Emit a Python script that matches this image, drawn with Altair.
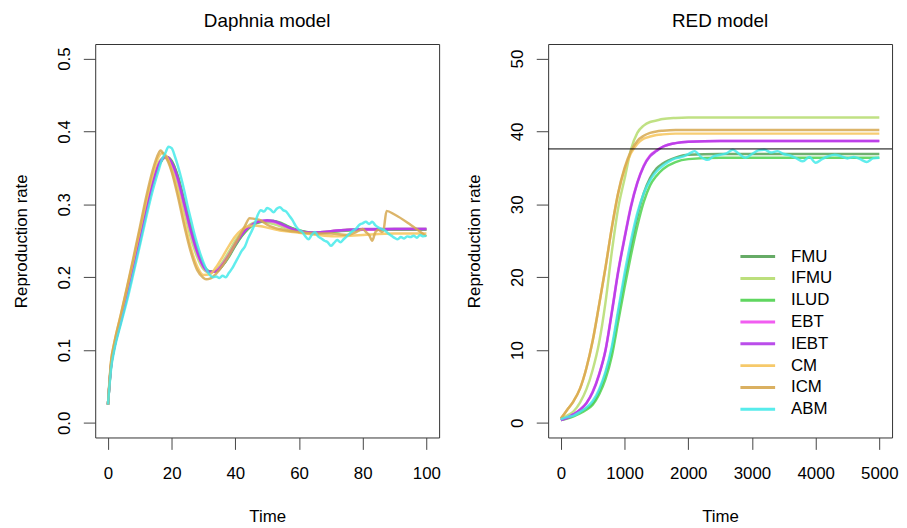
import altair as alt
import pandas as pd

models = ["FMU", "IFMU", "ILUD", "EBT", "IEBT", "CM", "ICM", "ABM"]
colors = ["#56a356", "#b5dc6e", "#4fd24f", "#f04cf0", "#b33ae8", "#f6c45a", "#d6a850", "#45eaea"]

# ---------------- Daphnia model (left) ----------------
left_t = [0, 1, 2, 4, 6, 8, 10, 12, 14, 16, 17, 18, 19, 20, 22, 24, 26, 28, 30, 32, 34, 36, 38, 40,
          42, 44, 46, 48, 50, 52, 54, 56, 58, 60, 64, 68, 72, 76, 80, 90, 100]
left_FMU = [0.025, 0.079, 0.104, 0.139, 0.174, 0.211, 0.249, 0.289, 0.326, 0.354, 0.361, 0.365, 0.364, 0.359,
            0.337, 0.302, 0.267, 0.237, 0.216, 0.208, 0.208, 0.216, 0.229, 0.244, 0.257, 0.267, 0.273, 0.276,
            0.277, 0.277, 0.274, 0.270, 0.267, 0.264, 0.261, 0.262, 0.263, 0.265, 0.265, 0.266, 0.266]
left_IFMU = [0.025, 0.082, 0.107, 0.143, 0.179, 0.217, 0.256, 0.296, 0.332, 0.358, 0.363, 0.364, 0.360, 0.352,
             0.326, 0.290, 0.255, 0.228, 0.211, 0.206, 0.210, 0.221, 0.235, 0.250, 0.262, 0.270, 0.275, 0.276,
             0.275, 0.273, 0.270, 0.267, 0.264, 0.262, 0.261, 0.262, 0.264, 0.265, 0.265, 0.265, 0.265]
left_ILUD = [0.025, 0.078, 0.103, 0.138, 0.173, 0.210, 0.248, 0.288, 0.325, 0.353, 0.361, 0.365, 0.364, 0.360,
             0.338, 0.304, 0.269, 0.238, 0.217, 0.208, 0.208, 0.216, 0.228, 0.243, 0.256, 0.266, 0.273, 0.276,
             0.277, 0.277, 0.275, 0.271, 0.267, 0.264, 0.261, 0.261, 0.263, 0.264, 0.265, 0.265, 0.265]
left_EBT = [0.025, 0.080, 0.105, 0.140, 0.176, 0.213, 0.251, 0.291, 0.328, 0.355, 0.362, 0.365, 0.363, 0.356,
            0.333, 0.298, 0.263, 0.234, 0.214, 0.207, 0.209, 0.218, 0.231, 0.246, 0.259, 0.268, 0.274, 0.277,
            0.277, 0.276, 0.273, 0.269, 0.266, 0.263, 0.261, 0.262, 0.264, 0.265, 0.265, 0.266, 0.266]
left_IEBT = [0.025, 0.080, 0.105, 0.140, 0.175, 0.212, 0.250, 0.290, 0.327, 0.355, 0.362, 0.366, 0.364, 0.358,
             0.335, 0.300, 0.265, 0.235, 0.215, 0.207, 0.208, 0.217, 0.230, 0.245, 0.258, 0.268, 0.274, 0.277,
             0.278, 0.277, 0.274, 0.270, 0.266, 0.263, 0.261, 0.262, 0.264, 0.265, 0.266, 0.266, 0.266]
left_CM = [0.025, 0.085, 0.110, 0.147, 0.185, 0.224, 0.264, 0.304, 0.340, 0.366, 0.370, 0.368, 0.360, 0.347,
           0.316, 0.277, 0.241, 0.215, 0.203, 0.204, 0.214, 0.228, 0.243, 0.256, 0.265, 0.270, 0.271, 0.270,
           0.268, 0.266, 0.264, 0.263, 0.262, 0.261, 0.259, 0.257, 0.256, 0.257, 0.258, 0.260, 0.260]

icm_t = [0, 1, 2, 4, 6, 8, 10, 12, 14, 16, 16.5, 17, 18, 20, 22, 24, 26, 28, 30, 31, 32, 34, 36, 38, 40, 42,
         43, 44.5, 46, 48, 50, 55, 60, 65, 70, 75, 78, 80, 81, 82, 83, 84, 85, 86, 86.5, 87.5, 90, 95, 100]
left_ICM = [0.025, 0.085, 0.110, 0.148, 0.187, 0.227, 0.268, 0.310, 0.346, 0.371, 0.374, 0.372, 0.366, 0.345,
            0.310, 0.270, 0.235, 0.210, 0.199, 0.197, 0.198, 0.205, 0.216, 0.230, 0.246, 0.262, 0.270, 0.281,
            0.280, 0.278, 0.272, 0.265, 0.262, 0.260, 0.260, 0.258, 0.262, 0.266, 0.262, 0.258, 0.250, 0.262,
            0.265, 0.262, 0.264, 0.291, 0.286, 0.272, 0.256]

abm_t = [0, 1, 2, 4, 6, 8, 10, 12, 14, 16, 17, 18, 19, 20, 21, 22, 23, 24, 25, 26, 27, 28, 29, 30, 31, 32,
         33, 34, 35, 36, 37, 38, 39, 40, 41, 42, 43, 44, 45, 46, 47, 48, 49, 50, 51, 52, 53, 54, 55, 56, 57,
         58, 59, 60, 61, 62, 63, 64, 65, 66, 67, 68, 69, 70, 71, 72, 73, 74, 75, 76, 77, 78, 79, 80, 81, 82,
         83, 84, 85, 86, 87, 88, 89, 90, 91, 92, 93, 94, 95, 96, 97, 98, 99, 100]
left_ABM = [0.025, 0.075, 0.100, 0.135, 0.168, 0.205, 0.243, 0.282, 0.318, 0.348, 0.362, 0.370, 0.379, 0.377,
            0.366, 0.352, 0.336, 0.318, 0.298, 0.280, 0.262, 0.246, 0.232, 0.220, 0.210, 0.203, 0.200, 0.201,
            0.199, 0.202, 0.200, 0.206, 0.212, 0.220, 0.228, 0.236, 0.242, 0.253, 0.262, 0.272, 0.285, 0.292,
            0.290, 0.295, 0.293, 0.289, 0.294, 0.296, 0.292, 0.290, 0.284, 0.278, 0.270, 0.265, 0.262, 0.256,
            0.252, 0.258, 0.262, 0.256, 0.253, 0.250, 0.248, 0.243, 0.247, 0.251, 0.248, 0.252, 0.256, 0.260,
            0.264, 0.267, 0.272, 0.274, 0.276, 0.273, 0.276, 0.271, 0.268, 0.266, 0.264, 0.260, 0.257, 0.254,
            0.252, 0.255, 0.253, 0.256, 0.255, 0.257, 0.254, 0.258, 0.256, 0.257]

# ---------------- RED model (right) ----------------
right_t = [0, 100, 200, 300, 400, 500, 600, 700, 800, 900, 1000, 1100, 1200, 1300, 1400, 1500, 1600,
           1800, 2000, 2500, 3000, 4000, 5000]
right_FMU = [0.4, 0.7, 1.0, 1.5, 2.0, 2.7, 4.3, 6.7, 10.0, 15.0, 19.8, 24.2, 28.3, 31.5, 33.6, 34.9, 35.6,
             36.4, 36.8, 36.9, 36.9, 36.9, 36.9]
right_IFMU = [0.5, 1.0, 1.6, 2.8, 4.6, 7.3, 11.0, 16.5, 23.5, 29.5, 33.5, 37.5, 39.8, 40.8, 41.3, 41.5, 41.7,
              41.85, 41.9, 41.9, 41.9, 41.9, 41.9]
right_ILUD = [0.4, 0.6, 0.9, 1.3, 1.8, 2.5, 3.9, 6.0, 9.2, 13.9, 18.6, 23.0, 27.0, 30.3, 32.6, 33.9, 34.8,
              35.8, 36.2, 36.4, 36.4, 36.4, 36.4]
right_EBT = [0.4, 0.7, 1.2, 1.8, 2.7, 4.3, 6.7, 10.0, 15.3, 20.9, 25.5, 29.8, 33.0, 35.3, 36.7, 37.4, 37.9,
             38.4, 38.6, 38.7, 38.7, 38.7, 38.7]
right_IEBT = [0.4, 0.7, 1.2, 1.8, 2.7, 4.2, 6.6, 9.9, 15.1, 20.7, 25.3, 29.6, 32.9, 35.2, 36.6, 37.3, 37.9,
              38.4, 38.6, 38.7, 38.7, 38.7, 38.7]
right_CM = [0.6, 1.8, 3.0, 4.7, 7.5, 11.3, 16.2, 21.3, 26.8, 31.5, 34.8, 37.0, 38.3, 39.0, 39.3, 39.5, 39.6,
            39.7, 39.7, 39.7, 39.7, 39.7, 39.7]
right_ICM = [0.6, 1.8, 3.0, 4.7, 7.5, 11.3, 16.2, 21.3, 26.8, 31.6, 35.0, 37.3, 38.7, 39.4, 39.8, 40.0, 40.1,
             40.2, 40.2, 40.2, 40.2, 40.2, 40.2]
abm_right_t = [0, 100, 200, 300, 400, 500, 600, 700, 800, 900, 1000, 1100, 1200, 1300, 1400, 1500, 1600,
               1700, 1800, 1900, 2000, 2100, 2200, 2300, 2400, 2500, 2600, 2700, 2800, 2900, 3000, 3100,
               3200, 3300, 3400, 3500, 3600, 3700, 3800, 3900, 4000, 4100, 4200, 4300, 4400, 4500, 4600,
               4700, 4800, 4900, 5000]
right_ABM = [0.5, 0.8, 1.0, 1.5, 2.1, 3.0, 4.6, 7.0, 10.5, 15.5, 20.5, 25.0, 28.8, 31.5, 33.3, 34.5, 35.3,
             35.9, 36.3, 36.5, 36.9, 37.3, 36.5, 36.1, 36.6, 36.8, 37.0, 37.5, 36.9, 36.4, 36.9, 37.4, 37.5,
             37.1, 37.3, 36.9, 36.7, 36.3, 35.9, 36.5, 35.7, 36.2, 36.6, 36.8, 36.6, 36.3, 36.5, 36.2, 35.8,
             36.3, 36.4]
reference_level = [37.6]

left_x_ticks = [0, 20, 40, 60, 80, 100]
left_y_ticks = [0.0, 0.1, 0.2, 0.3, 0.4, 0.5]
right_x_ticks = [0, 1000, 2000, 3000, 4000, 5000]
right_y_ticks = [0, 10, 20, 30, 40, 50]


def frame(series):
    rows = []
    for name, (ts, vs) in series.items():
        for t, v in zip(ts, vs):
            rows.append({"time": t, "rate": v, "model": name})
    return pd.DataFrame(rows)


left_df = frame({
    "FMU": (left_t, left_FMU), "IFMU": (left_t, left_IFMU), "ILUD": (left_t, left_ILUD),
    "EBT": (left_t, left_EBT), "IEBT": (left_t, left_IEBT), "CM": (left_t, left_CM),
    "ICM": (icm_t, left_ICM), "ABM": (abm_t, left_ABM),
})
right_df = frame({
    "FMU": (right_t, right_FMU), "IFMU": (right_t, right_IFMU), "ILUD": (right_t, right_ILUD),
    "EBT": (right_t, right_EBT), "IEBT": (right_t, right_IEBT), "CM": (right_t, right_CM),
    "ICM": (right_t, right_ICM), "ABM": (abm_right_t, right_ABM),
})

FONT = "Liberation Sans"
W, H = 347, 397

legend = alt.Legend(
    title=None, orient="none", legendX=660, legendY=206, padding=0,
    symbolType="M-2.5,0H2.5", symbolSize=196, symbolStrokeWidth=3, symbolOpacity=0.9,
    labelFont=FONT, labelFontSize=17, labelColor="black", labelOffset=25, rowPadding=4,
)
color = alt.Color("model:N", scale=alt.Scale(domain=models, range=colors), legend=legend)


def x_axis(values, fmt):
    return alt.Axis(values=values, format=fmt, title="Time", labelPadding=16, titleY=80,
                    titleBaseline="middle", labelFlush=False, labelOverlap=False)


def y_axis(values, fmt):
    return alt.Axis(values=values, format=fmt, title="Reproduction rate", labelAngle=270,
                    labelAlign="center", labelBaseline="alphabetic", labelPadding=14,
                    titleX=-74, titleBaseline="middle", labelFlush=False, labelOverlap=False)


def title(text):
    return alt.TitleParams(text, font=FONT, fontSize=19, fontWeight="normal", color="black",
                           offset=-2, baseline="alphabetic", anchor="middle", frame="group")


left = alt.Chart(left_df).mark_line(strokeWidth=2.5, opacity=0.85, interpolate="monotone").encode(
    x=alt.X("time:Q", scale=alt.Scale(domain=[-4, 104], nice=False, zero=False),
            axis=x_axis(left_x_ticks, "d")),
    y=alt.Y("rate:Q", scale=alt.Scale(domain=[-0.02, 0.52], nice=False, zero=False),
            axis=y_axis(left_y_ticks, ".1f")),
    color=color,
).properties(width=W, height=H, title=title("Daphnia model"))

right_lines = alt.Chart(right_df).mark_line(strokeWidth=2.5, opacity=0.85, interpolate="monotone").encode(
    x=alt.X("time:Q", scale=alt.Scale(domain=[-200, 5200], nice=False, zero=False),
            axis=x_axis(right_x_ticks, "d")),
    y=alt.Y("rate:Q", scale=alt.Scale(domain=[-2, 52], nice=False, zero=False),
            axis=y_axis(right_y_ticks, "d")),
    color=color,
)
hline = alt.Chart(pd.DataFrame({"level": reference_level})).mark_rule(color="black", strokeWidth=1).encode(
    y="level:Q"
)
right = alt.layer(right_lines, hline).properties(width=W, height=H, title=title("RED model"))

chart = alt.hconcat(left, right, spacing=110, bounds="flush").resolve_scale(color="shared").properties(
    padding={"left": 4, "top": 1, "right": 0, "bottom": 0}
).configure_view(stroke="#333333", strokeWidth=1).configure_axis(
    domain=False, grid=False, ticks=True, tickSize=12, tickColor="#444444", tickWidth=1,
    labelFont=FONT, labelFontSize=17, labelColor="black",
    titleFont=FONT, titleFontSize=17, titleFontWeight="normal", titleColor="black",
)

chart.save("out.html", embed_options={"renderer": "svg", "actions": False})
